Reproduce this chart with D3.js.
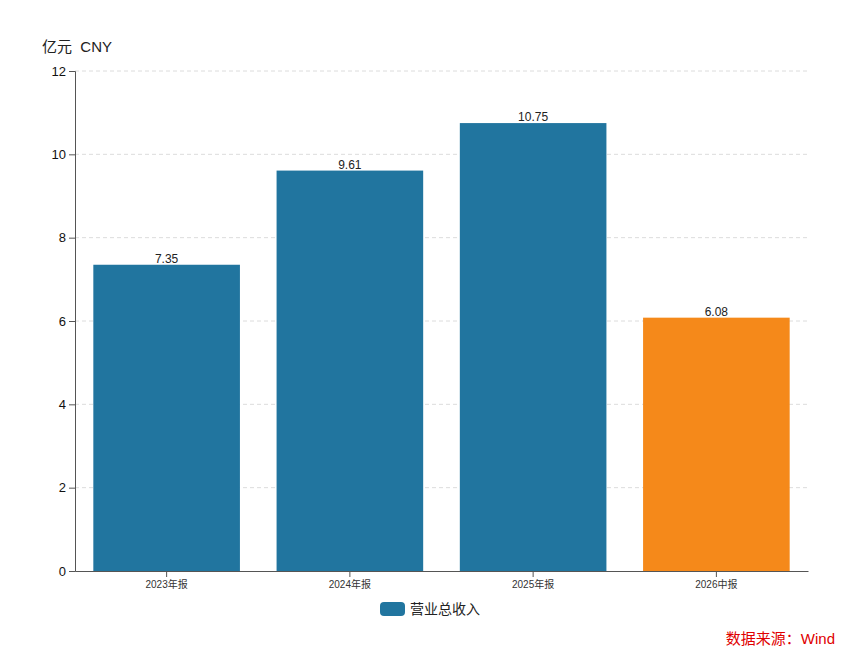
<!DOCTYPE html>
<html>
<head>
<meta charset="utf-8">
<script src="https://cdn.jsdelivr.net/npm/d3@7"></script>
<style>
  body { margin: 0; background: #fff; }
  text { font-family: "Liberation Sans", "Noto Sans CJK SC", sans-serif; }
</style>
</head>
<body>
<div id="chart"></div>
<script>
const categories = ["2023年报", "2024年报", "2025年报", "2026中报"];
const revenue = [7.35, 9.61, 10.75, 6.08];
const barColors = ["#21759f", "#21759f", "#21759f", "#f5891a"];
const yTicks = [0, 2, 4, 6, 8, 10, 12];

const margin = ({ top: 71, right: 56, bottom: 93, left: 75 })
const width = 864 - margin.left - margin.right,
    height = 664 - margin.top - margin.bottom;

const svg = d3.select("#chart").append("svg")
    .attr("width", 864)
    .attr("height", 664)
    .append("g")
    .attr("transform", "translate(" + margin.left + "," + margin.top + ")");

const x = d3.scaleBand()
    .domain(categories)
    .range([0, width])
    .paddingInner(0.2)
    .paddingOuter(0.1);

const y = d3.scaleLinear()
    .domain([0, 12])
    .range([height, 0]);

// grid lines
svg.append("g")
    .selectAll("line")
    .data(yTicks.filter(d => d > 0))
    .join("line")
    .attr("x1", 0)
    .attr("x2", width)
    .attr("y1", d => y(d))
    .attr("y2", d => y(d))
    .attr("stroke", "#dcdcdc")
    .attr("stroke-dasharray", "4,3");

// bars
svg.append("g")
    .selectAll("rect")
    .data(revenue)
    .join("rect")
    .attr("x", (d, i) => x(categories[i]))
    .attr("y", d => y(d))
    .attr("width", x.bandwidth())
    .attr("height", d => height - y(d))
    .attr("fill", (d, i) => barColors[i]);

// value labels
svg.append("g")
    .selectAll("text")
    .data(revenue)
    .join("text")
    .attr("x", (d, i) => x(categories[i]) + x.bandwidth() / 2)
    .attr("y", d => y(d) - 2)
    .attr("text-anchor", "middle")
    .attr("font-size", 12)
    .attr("fill", "#222")
    .text(d => d.toFixed(2));

// y axis
const yAxis = svg.append("g")
    .call(d3.axisLeft(y).tickValues(yTicks).tickSize(6).tickPadding(3));
yAxis.selectAll("text").attr("font-size", 13).attr("fill", "#111");
yAxis.selectAll("line, path").attr("stroke", "#555");

// x axis
const xAxis = svg.append("g")
    .attr("transform", "translate(0," + height + ")")
    .call(d3.axisBottom(x).tickSize(6).tickPadding(4).tickSizeOuter(0));
xAxis.selectAll("text").attr("font-size", 10).attr("fill", "#333");
xAxis.selectAll("line, path").attr("stroke", "#555");

// unit label
svg.append("text")
    .attr("x", -33)
    .attr("y", -19)
    .attr("font-size", 15)
    .attr("fill", "#222")
    .style("white-space", "pre")
    .text("亿元  CNY");

// legend
const legend = svg.append("g")
    .attr("transform", "translate(" + (380 - margin.left) + "," + (602 - margin.top) + ")");
legend.append("rect")
    .attr("width", 25)
    .attr("height", 14)
    .attr("rx", 4)
    .attr("fill", barColors[0]);
legend.append("text")
    .attr("x", 30)
    .attr("y", 12)
    .attr("font-size", 14)
    .attr("fill", "#222")
    .text("营业总收入");

// source
svg.append("text")
    .attr("x", 835 - margin.left)
    .attr("y", 644 - margin.top)
    .attr("text-anchor", "end")
    .attr("font-size", 15)
    .attr("fill", "#e00000")
    .text("数据来源：Wind");
</script>
</body>
</html>
